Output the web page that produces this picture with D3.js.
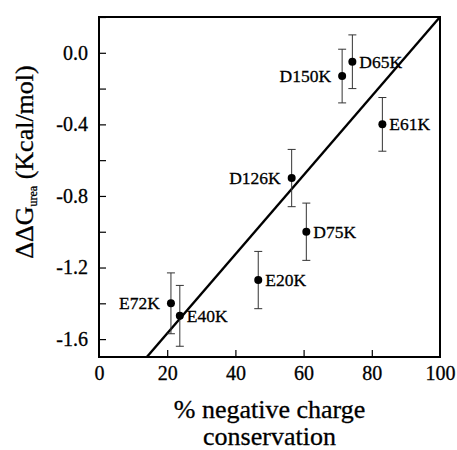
<!DOCTYPE html>
<html>
<head>
<meta charset="utf-8">
<script src="https://cdn.jsdelivr.net/npm/d3@7"></script>
<style>
  html, body { margin: 0; padding: 0; background: #fff; }
  svg text { stroke: #000; stroke-width: 0.3px; }
</style>
</head>
<body>
<svg id="chart" width="457" height="450"></svg>
<script>
// Mutants: label, % negative charge conservation, ΔΔG (kcal/mol), error, label side
const mutants = ["E72K", "E40K", "E20K", "D126K", "D75K", "D150K", "D65K", "E61K"];
const conservation = [21.1, 23.7, 46.7, 56.5, 60.8, 71.3, 74.3, 83.1];
const ddG = [-1.40, -1.47, -1.27, -0.70, -1.00, -0.13, -0.05, -0.40];
const errors = [0.17, 0.17, 0.16, 0.16, 0.16, 0.15, 0.15, 0.15];
const labelSide = ["left", "right", "right", "left", "right", "left", "right", "right"];

// Linear fit: y = slope * x + intercept
const fitSlope = 0.0221;
const fitIntercept = -2.01;

const xTicks = [0, 20, 40, 60, 80, 100];
const yTicks = [0.0, -0.4, -0.8, -1.2, -1.6];
const yMinorTicks = [0.2, -0.2, -0.6, -1.0, -1.4];

const FONT = "'Liberation Serif', 'Times New Roman', 'DejaVu Serif', serif";

const margin = { left: 99, top: 17, right: 17, bottom: 93 };
const W = 457, H = 450;
const svg = d3.select("#chart").attr("font-family", FONT);

const x = d3.scaleLinear().domain([0, 100]).range([margin.left, W - margin.right]);
const y = d3.scaleLinear().domain([-1.7, 0.2]).range([H - margin.bottom, margin.top]);

const tickFont = 20;

// clip for the fit line
svg.append("clipPath").attr("id", "plotClip")
  .append("rect")
  .attr("x", x(0)).attr("y", y(0.2))
  .attr("width", x(100) - x(0)).attr("height", y(-1.7) - y(0.2));

// fit line
const fitX0 = (-1.7 - fitIntercept) / fitSlope;
svg.append("line")
  .attr("clip-path", "url(#plotClip)")
  .attr("x1", x(fitX0)).attr("y1", y(fitSlope * fitX0 + fitIntercept))
  .attr("x2", x(100)).attr("y2", y(fitSlope * 100 + fitIntercept))
  .attr("stroke", "#000").attr("stroke-width", 2.4);

// axes with inward ticks
const xAxis = d3.axisBottom(x).tickValues(xTicks).tickSize(-7).tickPadding(9)
  .tickFormat(d3.format("d"));
const gx = svg.append("g").attr("transform", `translate(0,${y(-1.7)})`).call(xAxis)
  .attr("font-family", FONT).attr("font-size", tickFont);
gx.select(".domain").remove();
gx.selectAll(".tick line").attr("stroke", "#000").attr("stroke-width", 1.2);
gx.selectAll(".tick text").attr("fill", "#000");
gx.selectAll(".tick line").filter(d => d === 0 || d === 100).remove();

const yAxis = d3.axisLeft(y).tickValues(yTicks).tickSize(-7).tickPadding(11)
  .tickFormat(d => d3.format(".1f")(d).replace("−", "-"));
const gy = svg.append("g").attr("transform", `translate(${x(0)},0)`).call(yAxis)
  .attr("font-family", FONT).attr("font-size", tickFont);
gy.select(".domain").remove();
gy.selectAll(".tick line").attr("stroke", "#000").attr("stroke-width", 1.2);
gy.selectAll(".tick text").attr("fill", "#000");

const gyMinor = svg.append("g").attr("transform", `translate(${x(0)},0)`)
  .call(d3.axisLeft(y).tickValues(yMinorTicks).tickSize(-7).tickFormat(""));
gyMinor.select(".domain").remove();
gyMinor.selectAll(".tick line").attr("stroke", "#000").attr("stroke-width", 1.2);

// frame
svg.append("rect")
  .attr("x", x(0)).attr("y", y(0.2))
  .attr("width", x(100) - x(0)).attr("height", y(-1.7) - y(0.2))
  .attr("fill", "none").attr("stroke", "#000").attr("stroke-width", 2);

// data
const data = mutants.map((m, i) => ({
  name: m, cx: conservation[i], v: ddG[i], e: errors[i], side: labelSide[i]
}));

const pts = svg.append("g").selectAll("g").data(data).join("g");
const cap = 4;
pts.append("line")
  .attr("x1", d => x(d.cx)).attr("x2", d => x(d.cx))
  .attr("y1", d => y(d.v + d.e)).attr("y2", d => y(d.v - d.e))
  .attr("stroke", "#333").attr("stroke-width", 1);
pts.append("line")
  .attr("x1", d => x(d.cx) - cap).attr("x2", d => x(d.cx) + cap)
  .attr("y1", d => y(d.v + d.e)).attr("y2", d => y(d.v + d.e))
  .attr("stroke", "#333").attr("stroke-width", 1);
pts.append("line")
  .attr("x1", d => x(d.cx) - cap).attr("x2", d => x(d.cx) + cap)
  .attr("y1", d => y(d.v - d.e)).attr("y2", d => y(d.v - d.e))
  .attr("stroke", "#333").attr("stroke-width", 1);
pts.append("circle")
  .attr("cx", d => x(d.cx)).attr("cy", d => y(d.v)).attr("r", 4)
  .attr("fill", "#000");
pts.append("text")
  .attr("x", d => x(d.cx) + (d.side === "right" ? 7 : -11))
  .attr("y", d => y(d.v))
  .attr("dy", "0.34em")
  .attr("text-anchor", d => d.side === "right" ? "start" : "end")
  .attr("font-size", 17.5)
  .attr("fill", "#000")
  .text(d => d.name);

// axis titles
const cxTitle = (x(0) + x(100)) / 2;
const xt = svg.append("text")
  .attr("text-anchor", "middle")
  .attr("font-size", 26).attr("fill", "#000");
xt.append("tspan").attr("x", cxTitle).attr("y", 418).text("% negative charge");
xt.append("tspan").attr("x", cxTitle).attr("y", 445).text("conservation");

const yt = svg.append("text")
  .attr("transform", "translate(33,162) rotate(-90)")
  .attr("text-anchor", "middle")
  .attr("font-size", 26).attr("fill", "#000");
yt.append("tspan").text("ΔΔG");
yt.append("tspan").attr("dy", 4).attr("font-size", 12).text("urea");
yt.append("tspan").attr("dy", -4).text(" (Kcal/mol)");
</script>
</body>
</html>
